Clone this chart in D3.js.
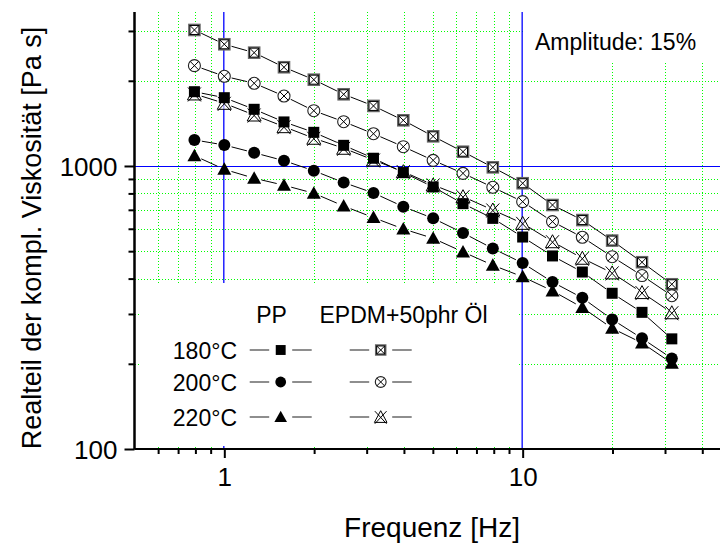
<!DOCTYPE html>
<html><head><meta charset="utf-8">
<script src="https://cdn.jsdelivr.net/npm/d3@7"></script>
<style>
html,body{margin:0;padding:0;background:#fff;}
svg{display:block;font-family:"Liberation Sans",Arial,sans-serif;}
</style></head>
<body>
<svg id="c" width="720" height="543"></svg>
<script>
// ---- data ----
const freq = [0.794, 1, 1.259, 1.585, 1.995, 2.512, 3.162, 3.981, 5.012, 6.310, 7.943, 10, 12.59, 15.85, 19.95, 25.12, 31.62];
const pp180 = [1830, 1743, 1586, 1431, 1315, 1183, 1065, 948, 843, 736, 653, 561, 481, 422, 355, 304, 245];
const pp200 = [1236, 1186, 1114, 1044, 962, 874, 803, 718, 653, 580, 511, 454, 389, 342, 287, 246, 209];
const pp220 = [1087, 973, 905, 855, 801, 722, 657, 599, 555, 497, 446, 406, 362, 316, 267, 237, 201];
const epdm180 = [3024, 2692, 2514, 2233, 2018, 1792, 1630, 1450, 1273, 1123, 989, 869, 728, 644, 545, 457, 382];
const epdm200 = [2262, 2075, 1960, 1767, 1568, 1434, 1300, 1170, 1047, 942, 841, 748, 636, 560, 478, 410, 348];
const epdm220 = [1797, 1665, 1514, 1377, 1253, 1155, 1050, 955, 857, 779, 699, 627, 540, 472, 419, 357, 303];
const temps = ["180°C", "200°C", "220°C"];
const groups = ["PP", "EPDM+50phr Öl"];
const xMajor = [1, 10];
const xMinor = [0.6, 0.7, 0.8, 0.9, 2, 3, 4, 5, 6, 7, 8, 9, 20, 30, 40];
const yMajor = [100, 1000];
const yMinor = [200, 300, 400, 500, 600, 700, 800, 900, 2000, 3000];
const xTitle = "Frequenz [Hz]";
const yTitle = "Realteil der kompl. Viskosität [Pa s]";
const note = "Amplitude: 15%";

// ---- scales ----
const svg = d3.select("#c");
const x = d3.scaleLog().domain([0.5, 50]).range([134.5, 731.2]);
const y = d3.scaleLog().domain([100, 3500]).range([449, 12]);
const X0 = x(0.5), Y0 = y(100), YT = y(3500), XR = 720;
const crisp = v => Math.round(v) + 0.5;

// ---- grid ----
const grid = svg.append("g");
grid.selectAll(".gx").data(xMinor).join("line")
  .attr("x1", d => crisp(x(d))).attr("x2", d => crisp(x(d))).attr("y1", 12).attr("y2", 449)
  .attr("stroke", "#00ff00").attr("stroke-width", 1).attr("stroke-dasharray", "1,2");
grid.selectAll(".gy").data(yMinor).join("line")
  .attr("y1", d => crisp(y(d))).attr("y2", d => crisp(y(d))).attr("x1", 135).attr("x2", XR)
  .attr("stroke", "#00ff00").attr("stroke-width", 1).attr("stroke-dasharray", "1,2");
grid.selectAll(".bx").data(xMajor).join("line")
  .attr("x1", d => x(d) - 0.5).attr("x2", d => x(d) - 0.5).attr("y1", YT).attr("y2", Y0)
  .attr("stroke", "#0000ff").attr("stroke-width", 1.3);
grid.selectAll(".by").data(yMajor.filter(v => v > 100)).join("line")
  .attr("y1", d => crisp(y(d))).attr("y2", d => crisp(y(d))).attr("x1", X0).attr("x2", XR)
  .attr("stroke", "#0000ff").attr("stroke-width", 1);

// white boxes (legend + note)
svg.append("rect").attr("x", 141).attr("y", 283).attr("width", 377).attr("height", 163).attr("fill", "#fff");
svg.append("rect").attr("x", 524).attr("y", YT).attr("width", 200).attr("height", 62 - YT).attr("fill", "#fff");

// ---- markers ----
function drawMarker(g, type, k) {
  if (type === "sq") {
    g.append("rect").attr("x", -5.5*k).attr("y", -5.5*k).attr("width", 11*k).attr("height", 11*k).attr("fill", "#000");
  } else if (type === "ci") {
    g.append("circle").attr("r", 6*k).attr("fill", "#000");
  } else if (type === "tr") {
    g.append("path").attr("d", `M0,${-7*k}L${7*k},${5.5*k}L${-7*k},${5.5*k}Z`).attr("fill", "#000");
  } else if (type === "xsq") {
    g.append("rect").attr("x", -5.5*k).attr("y", -5.5*k).attr("width", 11*k).attr("height", 11*k)
      .attr("fill", "#fff").attr("stroke", "#666").attr("stroke-width", 1.6);
    g.append("rect").attr("x", -4.5*k).attr("y", -4.5*k).attr("width", 9*k).attr("height", 9*k)
      .attr("fill", "none").attr("stroke", "#000").attr("stroke-width", 1);
    g.append("path").attr("d", `M${-4.5*k},${-4.5*k}L${4.5*k},${4.5*k}M${4.5*k},${-4.5*k}L${-4.5*k},${4.5*k}`)
      .attr("stroke", "#000").attr("stroke-width", 1);
  } else if (type === "xci") {
    g.append("circle").attr("r", 6*k).attr("fill", "#fff").attr("stroke", "#222").attr("stroke-width", 1.1);
    const a = 4.2*k;
    g.append("path").attr("d", `M${-a},${-a}L${a},${a}M${a},${-a}L${-a},${a}`)
      .attr("stroke", "#000").attr("stroke-width", 1);
  } else if (type === "xtr") {
    g.append("path").attr("d", `M0,${-7*k}L${7*k},${6*k}L${-7*k},${6*k}Z`)
      .attr("fill", "#fff").attr("fill-opacity", 0.6).attr("stroke", "#000").attr("stroke-width", 1);
    g.append("path").attr("d", `M${-6.5*k},${-6.5*k}L${6.5*k},${7.5*k}M${6.5*k},${-6.5*k}L${-6.5*k},${7.5*k}`)
      .attr("stroke", "#000").attr("stroke-width", 1);
  }
}

const series = [
  {vals: epdm180, m: "xsq"},
  {vals: epdm200, m: "xci"},
  {vals: epdm220, m: "xtr"},
  {vals: pp180, m: "sq"},
  {vals: pp200, m: "ci"},
  {vals: pp220, m: "tr"},
];

// lines with gaps
const gap = 7.5;
series.forEach(s => {
  const pts = freq.map((f, i) => [x(f), y(s.vals[i])]);
  const g = svg.append("g");
  for (let i = 0; i < pts.length - 1; i++) {
    const [ax, ay] = pts[i], [bx, by] = pts[i + 1];
    const dx = bx - ax, dy = by - ay, L = Math.hypot(dx, dy);
    if (L <= 2 * gap) continue;
    const ux = dx / L, uy = dy / L;
    g.append("line").attr("x1", ax + ux * gap).attr("y1", ay + uy * gap)
      .attr("x2", bx - ux * gap).attr("y2", by - uy * gap)
      .attr("stroke", "#000").attr("stroke-width", 1);
  }
});
series.forEach(s => {
  const g = svg.append("g");
  freq.forEach((f, i) => {
    const mg = g.append("g").attr("transform", `translate(${x(f)},${y(s.vals[i])})`);
    drawMarker(mg, s.m, 1);
  });
});

// ---- axes ----
const fs = 26;
const axB = svg.append("g").attr("transform", `translate(0,${Y0})`)
  .call(d3.axisBottom(x).tickValues(xMajor).tickFormat(d3.format("d")).tickSize(9).tickSizeOuter(0));
const axBm = svg.append("g").attr("transform", `translate(0,${Y0})`)
  .call(d3.axisBottom(x).tickValues(xMinor).tickFormat("").tickSize(5).tickSizeOuter(0));
const axL = svg.append("g").attr("transform", `translate(${X0},0)`)
  .call(d3.axisLeft(y).tickValues(yMajor).tickFormat(d3.format("d")).tickSize(10).tickSizeOuter(0));
const axLm = svg.append("g").attr("transform", `translate(${X0},0)`)
  .call(d3.axisLeft(y).tickValues(yMinor).tickFormat("").tickSize(6).tickSizeOuter(0));
[axB, axBm, axL, axLm].forEach(a => {
  a.select(".domain").attr("stroke", "#000").attr("stroke-width", 2);
  a.selectAll(".tick line").attr("stroke", "#000").attr("stroke-width", 2);
  a.selectAll(".tick text").attr("fill", "#000").style("font-size", fs + "px")
   .style("font-family", '"Liberation Sans",Arial,sans-serif');
});
axB.select(".domain").attr("d", `M${X0},0H${XR}`);
axBm.select(".domain").attr("d", `M${X0},0H${XR}`);
axL.select(".domain").attr("d", `M0,${YT}V${Y0}`);
axLm.select(".domain").attr("d", `M0,${YT}V${Y0}`);
axB.selectAll(".tick text").attr("dy", null).attr("y", 37);
axL.selectAll(".tick text").attr("dy", null).attr("x", -17).attr("y", 9.5);

// ---- titles ----
svg.append("text").attr("x", 432).attr("y", 537).attr("text-anchor", "middle")
  .style("font-size", "28px").text(xTitle);
svg.append("text").attr("transform", "translate(41,238) rotate(-90)").attr("text-anchor", "middle")
  .style("font-size", "27px").text(yTitle);
svg.append("text").attr("x", 535).attr("y", 49.5).style("font-size", "23px").text(note);

// ---- legend ----
const lg = svg.append("g").style("font-size", "23px");
lg.append("text").attr("x", 271.5).attr("y", 323).attr("text-anchor", "middle").text(groups[0]);
lg.append("text").attr("x", 319.5).attr("y", 323).text(groups[1]);
const rowY = [350, 382, 417];
const ppM = ["sq", "ci", "tr"], epM = ["xsq", "xci", "xtr"];
temps.forEach((t, i) => {
  const cy = rowY[i];
  lg.append("text").attr("x", 237).attr("y", cy + 8.5).attr("text-anchor", "end").text(t);
  [[280.7, ppM[i]], [380.7, epM[i]]].forEach(([cx, m]) => {
    lg.append("line").attr("x1", cx - 31).attr("x2", cx - 11.5).attr("y1", cy).attr("y2", cy)
      .attr("stroke", "#444").attr("stroke-width", 1.2);
    lg.append("line").attr("x1", cx + 11.5).attr("x2", cx + 31).attr("y1", cy).attr("y2", cy)
      .attr("stroke", "#444").attr("stroke-width", 1.2);
    const mg = lg.append("g").attr("transform", `translate(${cx},${cy})`);
    drawMarker(mg, m, 0.9);
  });
});
</script>
</body></html>
